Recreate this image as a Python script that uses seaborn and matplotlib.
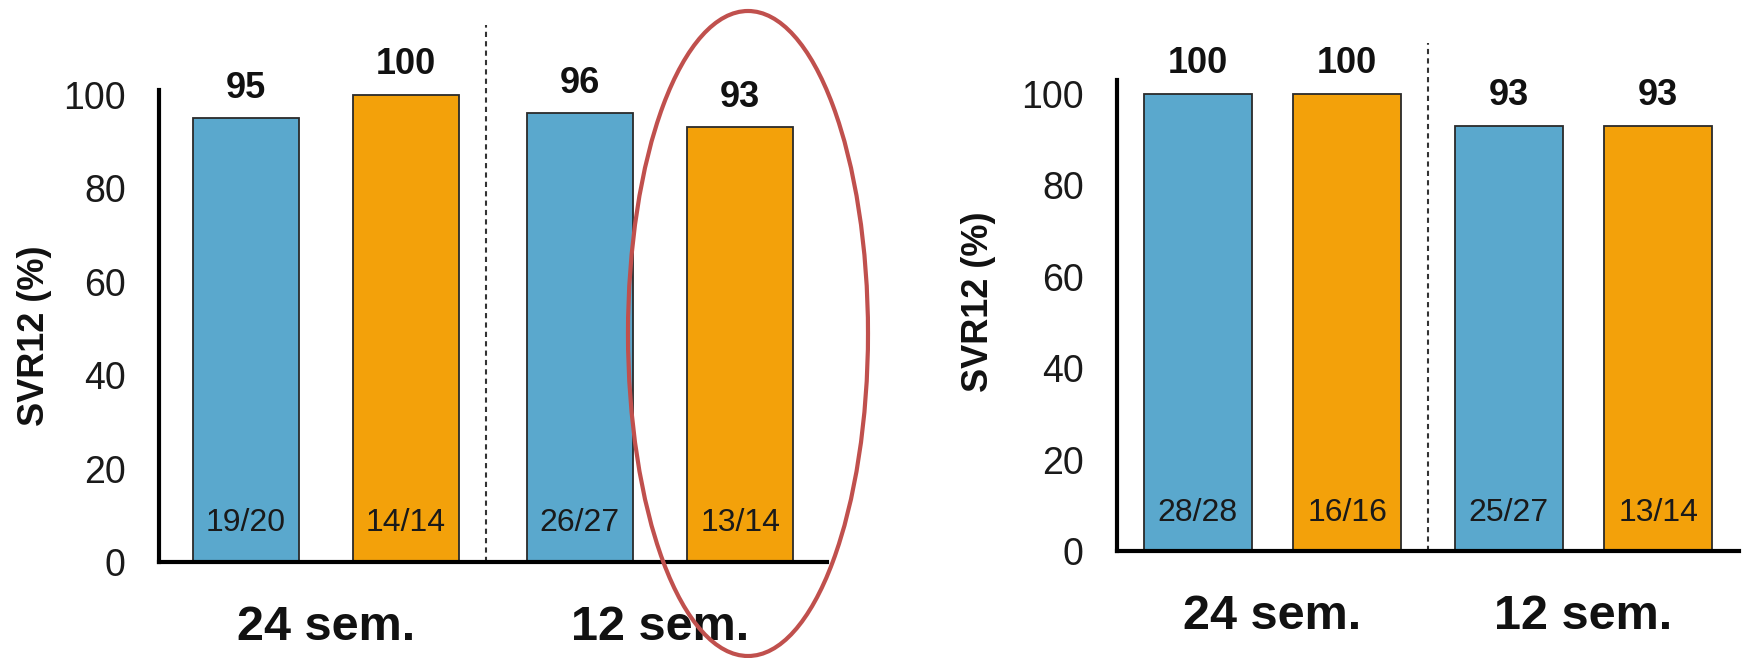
import matplotlib
matplotlib.use("Agg")
import matplotlib.pyplot as plt
import seaborn as sns
import pandas as pd
from matplotlib.patches import Ellipse

# ---- data -------------------------------------------------------------
durations = ["24 sem.", "12 sem."]
arms = ["bras_1", "bras_2"]

left_svr = {"bras_1": [95, 96], "bras_2": [100, 93]}
left_counts = {"bras_1": ["19/20", "26/27"], "bras_2": ["14/14", "13/14"]}

right_svr = {"bras_1": [100, 93], "bras_2": [100, 93]}
right_counts = {"bras_1": ["28/28", "25/27"], "bras_2": ["16/16", "13/14"]}

y_ticks = [0, 20, 40, 60, 80, 100]
y_label = "SVR12 (%)"

# ---- style ------------------------------------------------------------
BLUE = "#5AA8CD"
ORANGE = "#F3A10A"
EDGE = "#2a2a2a"
INK = "#111111"

sns.set_style("white")
plt.rcParams["font.family"] = ["Liberation Sans", "DejaVu Sans"]

W, H = 1744, 658
fig = plt.figure(figsize=(W / 100, H / 100), dpi=100)


def frame(svr, counts):
    rows = []
    for arm in arms:
        for d, v, c in zip(durations, svr[arm], counts[arm]):
            rows.append({"duree": d, "bras": arm, "svr": v, "n": c})
    return pd.DataFrame(rows)


def panel(rect, svr, counts, ytop, gap, sep_x, sep_top):
    ax = fig.add_axes(rect)
    df = frame(svr, counts)
    sns.barplot(data=df, x="duree", y="svr", hue="bras", order=durations,
                hue_order=arms, palette=[BLUE, ORANGE], saturation=1,
                width=0.96, gap=gap, edgecolor=EDGE, linewidth=1.3,
                legend=False, ax=ax)
    ax.set_xlim(-0.5, 1.5)
    ax.set_ylim(0, ytop)
    ax.set_yticks(y_ticks)
    ax.set_xlabel("")
    ax.set_ylabel(y_label, fontsize=26, fontweight="bold", color=INK)
    ax.tick_params(axis="y", length=0, pad=24, labelsize=27, labelcolor="#1a1a1a")
    ax.tick_params(axis="x", length=0, pad=31, labelcolor=INK)
    for lab in ax.get_xticklabels():
        lab.set_fontsize(35)
        lab.set_fontweight("bold")
    for side in ("top", "right"):
        ax.spines[side].set_visible(False)
    for side in ("left", "bottom"):
        ax.spines[side].set_linewidth(3)
        ax.spines[side].set_color("black")

    for arm, cont in zip(arms, ax.containers):
        ax.bar_label(cont, labels=[str(v) for v in svr[arm]], padding=9,
                     fontsize=26, fontweight="bold", color=INK)
        for bar, txt in zip(cont, counts[arm]):
            ax.text(bar.get_x() + bar.get_width() / 2, 8.3, txt,
                    ha="center", va="center", fontsize=23, color="#1a1a1a")

    ax.plot([sep_x, sep_x], [0, sep_top], color="#333333", lw=1.5,
            dashes=(2.5, 2), clip_on=False)
    return ax


ax_l = panel([159 / W, 96 / H, 668 / W, 472 / H], left_svr, left_counts,
             101, 0.34, 0.48, 115)
ax_r = panel([1117 / W, 107 / H, 622 / W, 471 / H], right_svr, right_counts,
             103, 0.28, 0.5, 111)

ax_l.yaxis.set_label_coords(-0.16, 0.48)
ax_r.yaxis.set_label_coords(-0.195, 0.53)

# highlight around the 12-week arm of the left panel
fig.add_artist(Ellipse((748 / W, 1 - 333.5 / H), 240 / W, 645 / H,
                       transform=fig.transFigure, fill=False,
                       edgecolor="#C0504D", lw=3))

fig.savefig("out.png", dpi=100)
